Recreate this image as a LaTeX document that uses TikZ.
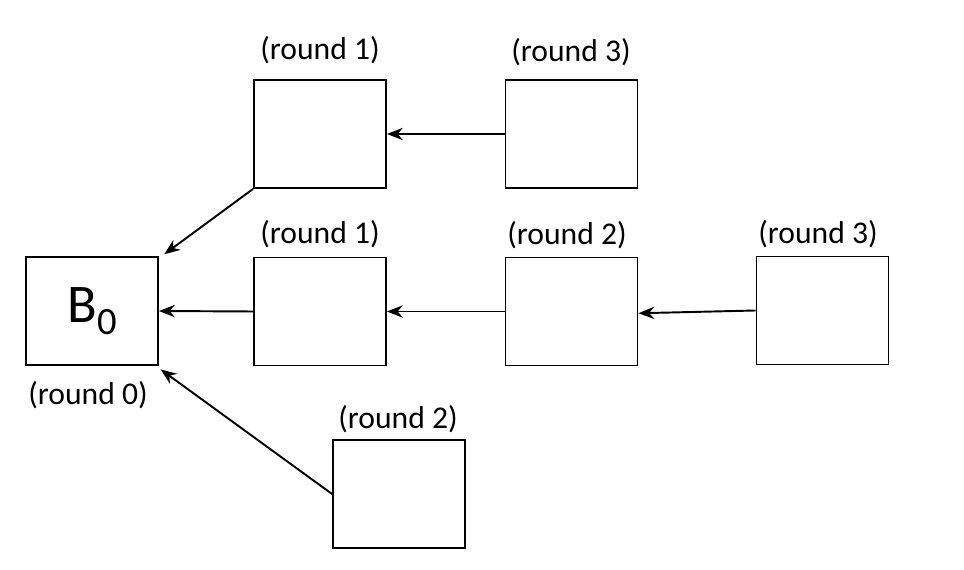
\documentclass[tikz,border=0pt]{standalone}
\usepackage{fontspec}
\setmainfont{Carlito}
\usetikzlibrary{arrows.meta}

\tikzset{
    blk/.style = {draw, line width=1.1pt, minimum width=2.64cm, minimum height=2.16cm, inner sep=0pt},
    rnd/.style = {font=\fontsize{18}{21}\selectfont, inner sep=0pt},
    link/.style = {-{Stealth[length=9pt,width=7pt]}, line width=1.1pt}
}

\begin{document}
\begin{tikzpicture}[x=0.02cm, y=-0.02cm]
    \useasboundingbox (0,0) rectangle (964,570);

    % blocks
    \node[blk] (b0) at (92,311) {\fontsize{31}{36}\selectfont B\raisebox{-7pt}{\fontsize{22}{24}\selectfont 0}};
    \node[blk] (t1) at (320,134) {};
    \node[blk] (t3) at (571.5,134) {};
    \node[blk] (m1) at (320,311.5) {};
    \node[blk] (m2) at (571.5,311.5) {};
    \node[blk] (m3) at (822.5,310.5) {};
    \node[blk] (b2) at (399,494) {};

    % labels
    \node[rnd] (lt1) at (320,50) {(round 1)};
    \node[rnd] (lt3) at (571,52) {(round 3)};
    \node[rnd] (lm1) at (320,234) {(round 1)};
    \node[rnd] (lm2) at (567,235) {(round 2)};
    \node[rnd] (lm3) at (818,234) {(round 3)};
    \node[rnd] (lb0) at (88,395) {(round 0)};
    \node[rnd] (lb2) at (398,419) {(round 2)};

    % links
    \draw[link] (t3.west) -- (t1.east);
    \draw[link] (t1.south west) -- ([xshift=3pt,yshift=1pt]b0.north east);
    \draw[link] (m1.west) -- (b0.east);
    \draw[link] (m2.west) -- (m1.east);
    \draw[link] (m3.west) -- ([yshift=-1pt]m2.east);
    \draw[link] (b2.west) -- ([xshift=1pt,yshift=-2pt]b0.south east);
\end{tikzpicture}
\end{document}
